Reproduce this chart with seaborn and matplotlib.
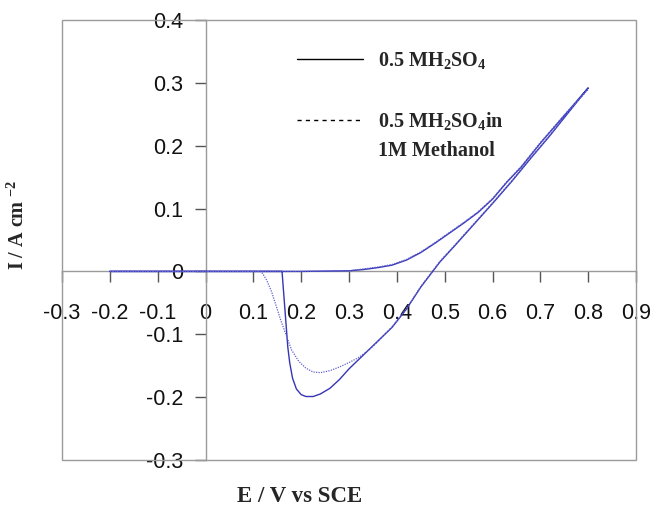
import numpy as np
import pandas as pd
import matplotlib
matplotlib.use("Agg")
import matplotlib.pyplot as plt
import seaborn as sns
from matplotlib.lines import Line2D
from matplotlib.patches import Rectangle

# ---- data ----
# 0.5 M H2SO4: forward scan then return scan
solid_E = [-0.2, 0.0, 0.2, 0.30, 0.33, 0.36, 0.39, 0.42, 0.45, 0.48, 0.51, 0.54, 0.57, 0.60, 0.63, 0.66,
           0.70, 0.75, 0.80,
           0.76, 0.72, 0.68, 0.64, 0.60, 0.56, 0.52, 0.49, 0.475, 0.45, 0.42, 0.39, 0.36, 0.33, 0.30,
           0.28, 0.26, 0.24, 0.225, 0.21, 0.20, 0.19, 0.182, 0.176, 0.172, 0.169, 0.166, 0.163, 0.16,
           0.10, 0.0, -0.2]
solid_I = [0, 0, 0, 0.001, 0.003, 0.006, 0.010, 0.018, 0.030, 0.045, 0.061, 0.077, 0.094, 0.115, 0.142,
           0.166, 0.204, 0.248, 0.292,
           0.254, 0.216, 0.180, 0.143, 0.108, 0.074, 0.040, 0.015, 0.0, -0.025, -0.060, -0.089, -0.111,
           -0.133, -0.155, -0.172, -0.186, -0.195, -0.199, -0.199, -0.196, -0.187, -0.170, -0.145,
           -0.120, -0.090, -0.060, -0.030, 0.0, 0, 0, 0]

# 0.5 M H2SO4 in 1 M methanol
dash_E = [-0.2, 0.0, 0.2, 0.30, 0.33, 0.36, 0.39, 0.42, 0.45, 0.48, 0.51, 0.54, 0.57, 0.60, 0.63, 0.66,
          0.70, 0.75, 0.80,
          0.76, 0.72, 0.68, 0.64, 0.60, 0.56, 0.52, 0.49, 0.475, 0.45, 0.42, 0.39, 0.36, 0.34, 0.32,
          0.30, 0.28, 0.26, 0.24, 0.225, 0.21, 0.195, 0.18, 0.168, 0.157, 0.147, 0.138, 0.128, 0.12,
          0.116, 0.0, -0.2]
dash_I = [0, 0, 0, 0.001, 0.004, 0.007, 0.011, 0.019, 0.031, 0.046, 0.062, 0.078, 0.095, 0.116, 0.143,
          0.167, 0.205, 0.249, 0.290,
          0.255, 0.217, 0.181, 0.144, 0.109, 0.075, 0.041, 0.016, 0.001, -0.024, -0.059, -0.088, -0.112,
          -0.126, -0.137, -0.145, -0.152, -0.158, -0.161, -0.160, -0.154, -0.143, -0.125, -0.100,
          -0.077, -0.053, -0.032, -0.014, -0.004, 0.0, 0, 0]

series_names = [r"0.5 MH$_2$SO$_4$", r"0.5 MH$_2$SO$_4$in", "1M Methanol"]

x_ticks = [-0.3, -0.2, -0.1, 0.0, 0.1, 0.2, 0.3, 0.4, 0.5, 0.6, 0.7, 0.8, 0.9]
x_labels = ["-0.3", "-0.2", "-0.1", "0", "0.1", "0.2", "0.3", "0.4", "0.5", "0.6", "0.7", "0.8", "0.9"]
y_ticks = [-0.3, -0.2, -0.1, 0.0, 0.1, 0.2, 0.3, 0.4]
y_labels = ["-0.3", "-0.2", "-0.1", "0", "0.1", "0.2", "0.3", "0.4"]

df_solid = pd.DataFrame({"E": solid_E, "I": solid_I})
df_dash = pd.DataFrame({"E": dash_E, "I": dash_I})

# ---- style ----
sns.set_style("white")
plt.rcParams["font.family"] = ["Liberation Sans", "DejaVu Sans"]
plt.rcParams["axes.unicode_minus"] = False
plt.rcParams["mathtext.fontset"] = "custom"
plt.rcParams["mathtext.rm"] = "Liberation Serif:bold"
plt.rcParams["mathtext.it"] = "Liberation Serif:bold"
plt.rcParams["mathtext.bf"] = "Liberation Serif:bold"

GRAY = "#9a9a9a"
BLUE = "#3535b5"
BLUE2 = "#6060d0"

fig = plt.figure(figsize=(6.51, 5.09), dpi=100)
ax = fig.add_axes([62 / 651, 1 - 460 / 509, 574 / 651, 440 / 509])

sns.lineplot(data=df_solid, x="E", y="I", sort=False, estimator=None, ax=ax,
             color=BLUE, linewidth=1.0)
sns.lineplot(data=df_dash, x="E", y="I", sort=False, estimator=None, ax=ax,
             color=BLUE2, linewidth=0.9, linestyle=(0, (1, 1)))

ax.set_xlim(-0.3, 0.9)
ax.set_ylim(-0.3, 0.4)
ax.set_xlabel("")
ax.set_ylabel("")

# axes crossing at zero
for s in ["top", "right"]:
    ax.spines[s].set_visible(False)
ax.spines["left"].set_position(("data", 0))
ax.spines["bottom"].set_position(("data", 0))
for s in ["left", "bottom"]:
    ax.spines[s].set_color(GRAY)
    ax.spines[s].set_linewidth(1.0)
    ax.spines[s].set_zorder(1)
ax.add_patch(Rectangle((0, 0), 1, 1, transform=ax.transAxes, fill=False,
                       edgecolor=GRAY, linewidth=1.0, clip_on=False, zorder=1))

ax.set_xticks(x_ticks)
ax.set_xticklabels(x_labels)
ax.set_yticks(y_ticks)
ax.set_yticklabels(y_labels)
ax.tick_params(axis="x", direction="out", length=8, width=1, color="#555555", pad=14.5,
               labelsize=15.5, labelcolor="#111111")
ax.tick_params(axis="y", direction="out", length=8, width=1, color="#555555", pad=8,
               labelsize=15.5, labelcolor="#111111")
ax.xaxis.set_ticks_position("bottom")
ax.yaxis.set_ticks_position("left")

# legend (blank rows keep the dashed key level with the first text line)
blank = Line2D([], [], linestyle="none")
handles = [Line2D([], [], color="black", linewidth=1.0), blank,
           Line2D([], [], color="black", linewidth=1.0, linestyle=(0, (3, 3))), blank]
labels = [series_names[0], " ", series_names[1], series_names[2]]
leg = ax.legend(handles, labels, loc="upper left", bbox_to_anchor=(0.409, 0.932),
                frameon=False, handlelength=3.3, handletextpad=0.75, labelspacing=0.47,
                borderpad=0, borderaxespad=0,
                prop={"family": "Liberation Serif", "weight": "bold", "size": 14.5})

fig.text(300 / 651, 1 - 496 / 509, "E / V vs SCE", ha="center", va="center",
         fontfamily="Liberation Serif", fontweight="bold", fontsize=16.5)
fig.text(18 / 651, 1 - 225 / 509, "I / A cm $^{-2}$", ha="center", va="center", rotation=90,
         fontfamily="Liberation Serif", fontweight="bold", fontsize=14.5)

fig.savefig("out.png", dpi=100)
